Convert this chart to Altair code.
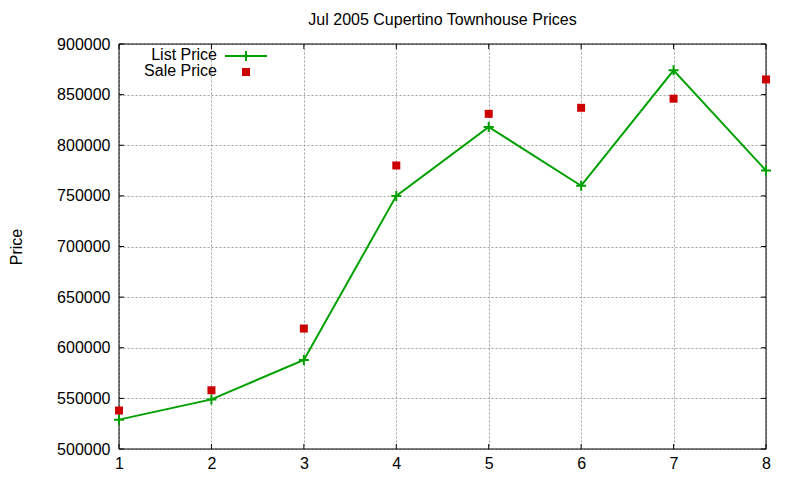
import pandas as pd
import altair as alt

# values
months = [1, 2, 3, 4, 5, 6, 7, 8]
list_price = [529000, 549000, 588000, 750000, 818000, 760000, 874000, 775000]
sale_price = [538000, 558000, 619000, 780000, 831000, 837000, 846000, 865000]

x_ticks = [1, 2, 3, 4, 5, 6, 7, 8]
y_ticks = [500000, 550000, 600000, 650000, 700000, 750000, 800000, 850000, 900000]

W, H = 647, 405
FONT = 'Liberation Sans'
GREEN = '#00a000'
RED = '#cc0000'

data = pd.DataFrame({'month': months, 'list': list_price, 'sale': sale_price})
xt = pd.DataFrame({'t': x_ticks})
yt = pd.DataFrame({'t': y_ticks})
one = pd.DataFrame({'a': [0]})

x_scale = alt.Scale(domain=[1, 8], nice=False, zero=False)
y_scale = alt.Scale(domain=[500000, 900000], nice=False, zero=False)

x_enc = alt.X('month:Q', scale=x_scale,
              axis=alt.Axis(values=x_ticks, title=None, format='d', labelPadding=6, labelFlush=False))
y_enc = alt.Y('list:Q', scale=y_scale,
              axis=alt.Axis(values=y_ticks, format='d', title='Price', labelPadding=9, labelFlush=False,
                            titleAngle=-90, titleX=-103, titleY=H / 2,
                            titleAlign='center', titleBaseline='middle'))

grid = alt.Chart(data).mark_line(opacity=0).encode(x=x_enc, y=y_enc)

border = alt.Chart(one).mark_rect(fillOpacity=0, stroke='black', strokeWidth=1).encode(
    x=alt.value(0), x2=alt.value(W), y=alt.value(0), y2=alt.value(H)
)

list_line = alt.Chart(data).mark_line(color=GREEN, strokeWidth=2).encode(
    x=alt.X('month:Q', scale=x_scale), y=alt.Y('list:Q', scale=y_scale)
)
list_pts = alt.Chart(data).mark_point(
    shape='M-1,0H1M0,-1V1', filled=False, color=GREEN, strokeWidth=2, size=100, opacity=1
).encode(x=alt.X('month:Q', scale=x_scale), y=alt.Y('list:Q', scale=y_scale))

sale_pts = alt.Chart(data).mark_square(color=RED, size=64, opacity=1).encode(
    x=alt.X('month:Q', scale=x_scale), y=alt.Y('sale:Q', scale=y_scale)
)

# inward tick marks on all four sides, like gnuplot
tick_bottom = alt.Chart(xt).mark_rule(color='black').encode(
    x=alt.X('t:Q', scale=x_scale), y=alt.value(H), y2=alt.value(H - 5))
tick_top = alt.Chart(xt).mark_rule(color='black').encode(
    x=alt.X('t:Q', scale=x_scale), y=alt.value(0), y2=alt.value(5))
tick_left = alt.Chart(yt).mark_rule(color='black').encode(
    y=alt.Y('t:Q', scale=y_scale), x=alt.value(0), x2=alt.value(5))
tick_right = alt.Chart(yt).mark_rule(color='black').encode(
    y=alt.Y('t:Q', scale=y_scale), x=alt.value(W - 5), x2=alt.value(W))

# hand-made key in the top-left corner
key_list_text = alt.Chart(one).mark_text(align='right', baseline='alphabetic', fontSize=16, font=FONT).encode(
    x=alt.value(98), y=alt.value(16), text=alt.value('List Price'))
key_sale_text = alt.Chart(one).mark_text(align='right', baseline='alphabetic', fontSize=16, font=FONT).encode(
    x=alt.value(98), y=alt.value(32), text=alt.value('Sale Price'))
key_line = alt.Chart(one).mark_rule(color=GREEN, strokeWidth=2).encode(
    x=alt.value(106), x2=alt.value(148), y=alt.value(12))
key_cross = alt.Chart(one).mark_point(
    shape='M-1,0H1M0,-1V1', filled=False, color=GREEN, strokeWidth=2, size=100, opacity=1
).encode(x=alt.value(127), y=alt.value(12))
key_square = alt.Chart(one).mark_square(color=RED, size=64, opacity=1).encode(
    x=alt.value(127), y=alt.value(28))

chart = alt.layer(
    grid, border, list_line, list_pts, sale_pts,
    tick_bottom, tick_top, tick_left, tick_right,
    key_list_text, key_sale_text, key_line, key_cross, key_square
).properties(
    width=W, height=H,
    title=alt.TitleParams('Jul 2005 Cupertino Townhouse Prices', fontSize=16, font=FONT,
                          fontWeight='normal', color='black', offset=8),
    padding={'left': 111, 'top': 36, 'right': 26, 'bottom': 23},
    autosize='none',
).configure_view(
    stroke=None
).configure_axis(
    grid=True, gridColor='#a0a0a0', gridDash=[2, 2], gridWidth=1,
    domain=False, ticks=False,
    labelFont=FONT, labelFontSize=16, labelColor='black',
    titleFont=FONT, titleFontSize=16, titleFontWeight='normal', titleColor='black',
)

chart.save('out.html', embed_options={'renderer': 'svg', 'actions': False})
